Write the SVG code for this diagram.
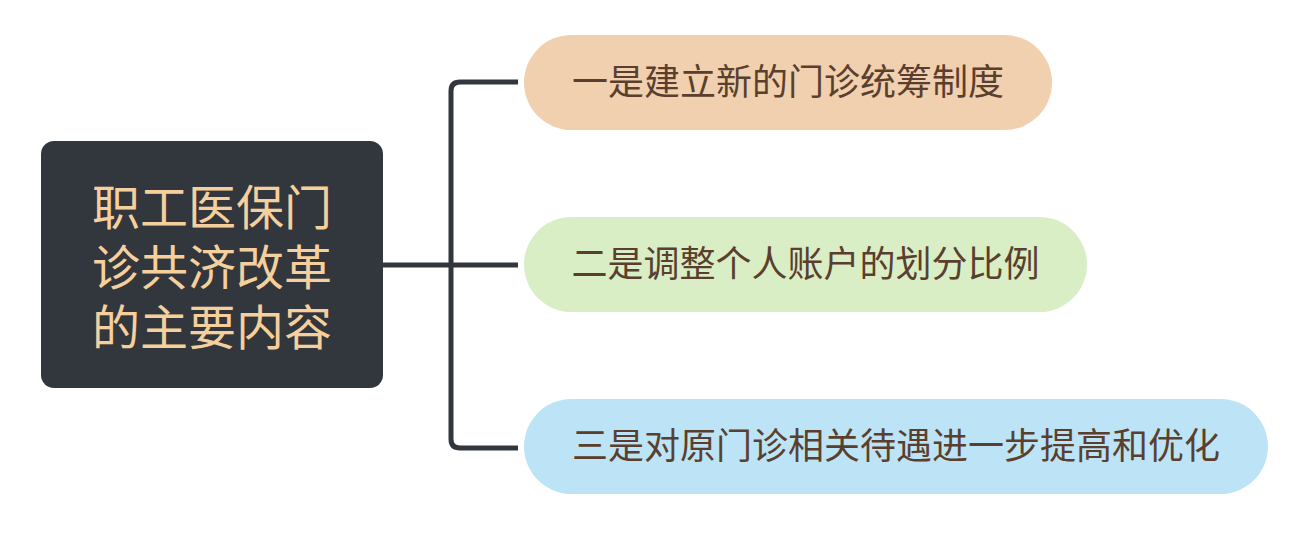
<svg xmlns="http://www.w3.org/2000/svg" width="1309" height="542" viewBox="0 0 1309 542">
<style>
.cjk{font-family:"Noto Sans CJK SC","Noto Sans",sans-serif;}
.root-t{font-size:48px;fill:#f5cf9c;}
.sub-t{font-size:36px;fill:#5a3f2e;}
.conn{fill:none;stroke:#32363d;stroke-width:5;stroke-linecap:butt;}
</style>
<rect width="1309" height="542" fill="#ffffff"/>
<g id="connectors">
<path class="conn" d="M383 265 H518"/>
<path class="conn" d="M518 82 H460 Q451 82 451 91 V439 Q451 448 460 448 H518"/>
</g>
<g id="root">
<rect x="41" y="141" width="342" height="247" rx="13" fill="#32363d"/>
<text class="cjk root-t" text-anchor="middle"><tspan x="212" y="225">职工医保门</tspan><tspan x="212" y="285">诊共济改革</tspan><tspan x="212" y="345">的主要内容</tspan></text>
</g>
<g id="node1">
<rect x="524" y="35" width="528" height="95" rx="47.5" fill="#f0d0ae"/>
<text class="cjk sub-t" x="788" y="95" text-anchor="middle">一是建立新的门诊统筹制度</text>
</g>
<g id="node2">
<rect x="524" y="217" width="563" height="95" rx="47.5" fill="#d9eec4"/>
<text class="cjk sub-t" x="805.5" y="277" text-anchor="middle">二是调整个人账户的划分比例</text>
</g>
<g id="node3">
<rect x="524" y="399" width="744" height="95" rx="47.5" fill="#bce4f6"/>
<text class="cjk sub-t" x="896" y="459" text-anchor="middle">三是对原门诊相关待遇进一步提高和优化</text>
</g>
</svg>
